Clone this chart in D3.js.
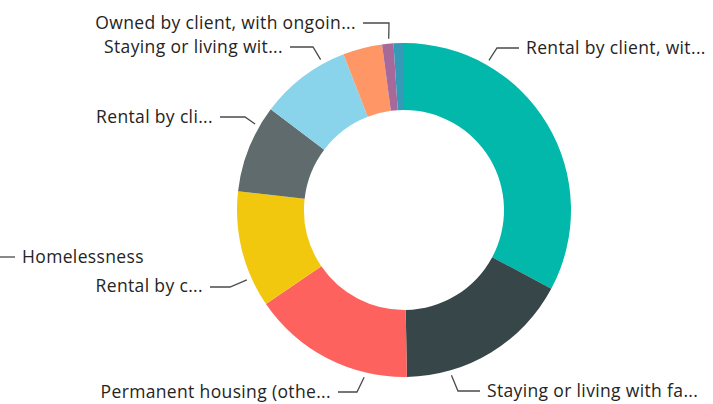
<!DOCTYPE html>
<html>
<head>
<meta charset="utf-8">
<script src="https://cdn.jsdelivr.net/npm/d3@7"></script>
<style>
  body { margin: 0; background: #fff; }
  text { font-family: "Open Sans"; font-size: 17.5px; letter-spacing: 0.35px; fill: #252423; }
</style>
</head>
<body>
<div id="chart"></div>
<script>
// data, in slice order (clockwise from 12 o'clock)
const categories = [
  "Rental by client, with ongoing housing subsidy",
  "Staying or living with family, permanent tenure",
  "Permanent housing (other than RRH) for formerly homeless persons",
  "Rental by client, no ongoing housing subsidy",
  "Rental by client, with VASH housing subsidy",
  "Staying or living with friends, permanent tenure",
  "Rental by client, with other ongoing housing subsidy",
  "Owned by client, with ongoing housing subsidy",
  "Homelessness"
];
const values = [32.8, 16.9, 15.75, 11.3, 8.5, 8.8, 3.8, 1.1, 1.0];
const shownLabels = [
  "Rental by client, wit...",
  "Staying or living with fa...",
  "Permanent housing (othe...",
  "Rental by c...",
  "Rental by cli...",
  "Staying or living wit...",
  null,
  "Owned by client, with ongoin...",
  "Homelessness"
];
const colors = ["#01B8AA", "#374649", "#FD625E", "#F2C80F", "#5F6B6D", "#8AD4EB", "#FE9666", "#A66999", "#3599B8"];

// label layout: anchor angle on the ring (deg), elbow point, text position, side
const labelLayout = [
  {ang: 29.6, ex: 497, ey: 48, tx: 526, ty: 48, side: "right"},
  {ang: 164, ex: 458, ey: 391, tx: 487, ty: 391, side: "right"},
  {ang: 193.4, ex: 357, ey: 392, tx: 331, ty: 392, side: "left"},
  {ang: 246, ex: 230, ey: 287, tx: 203, ty: 286, side: "left"},
  {ang: 300, ex: 245, ey: 117, tx: 213, ty: 117, side: "left"},
  {ang: 331, ex: 313, ey: 47, tx: 283, ty: 47, side: "left"},
  null,
  {ang: 354.9, ex: 389, ey: 23, tx: 356, ty: 23, side: "left"},
  {ang: null, ex: 0, ey: 257, tx: 22, ty: 257, side: "right"}
];

const width = 713, height = 404;
const cx = 404, cy = 210, outerR = 167, innerR = 100;

const svg = d3.select("#chart").append("svg")
  .attr("width", width).attr("height", height);

const rows = categories.map((c, i) => ({name: c, value: values[i], color: colors[i], label: shownLabels[i], lay: labelLayout[i]}));

const pie = d3.pie().sort(null).value(d => d.value);
const arc = d3.arc().innerRadius(innerR).outerRadius(outerR);
const arcs = pie(rows);

const g = svg.append("g").attr("transform", `translate(${cx},${cy})`);
g.selectAll("path.slice")
  .data(arcs)
  .enter()
  .append("path")
  .attr("class", "slice")
  .attr("d", arc)
  .attr("fill", d => d.data.color);

// leader lines + labels
const lblG = svg.append("g");
const rad = Math.PI / 180;
arcs.forEach(function (a) {
  const d = a.data, lay = d.lay;
  if (!d.label || !lay) return;
  const gap = 7;
  const endX = lay.side === "left" ? lay.tx + gap : lay.tx - gap;
  let pts;
  if (lay.ang === null) {
    pts = [[lay.ex, lay.ey], [endX, lay.ey]];
  } else {
    const r = outerR + 5;
    const ax = cx + r * Math.sin(lay.ang * rad);
    const ay = cy - r * Math.cos(lay.ang * rad);
    pts = [[ax, ay], [lay.ex, lay.ey], [endX, lay.ey]];
  }
  lblG.append("path")
    .attr("d", d3.line()(pts))
    .attr("fill", "none")
    .attr("stroke", "#4a4a4a")
    .attr("stroke-width", 1.3);
  lblG.append("text")
    .attr("x", lay.tx)
    .attr("y", lay.ty)
    .attr("dy", "0.35em")
    .attr("text-anchor", lay.side === "left" ? "end" : "start")
    .text(d.label);
});
</script>
</body>
</html>
